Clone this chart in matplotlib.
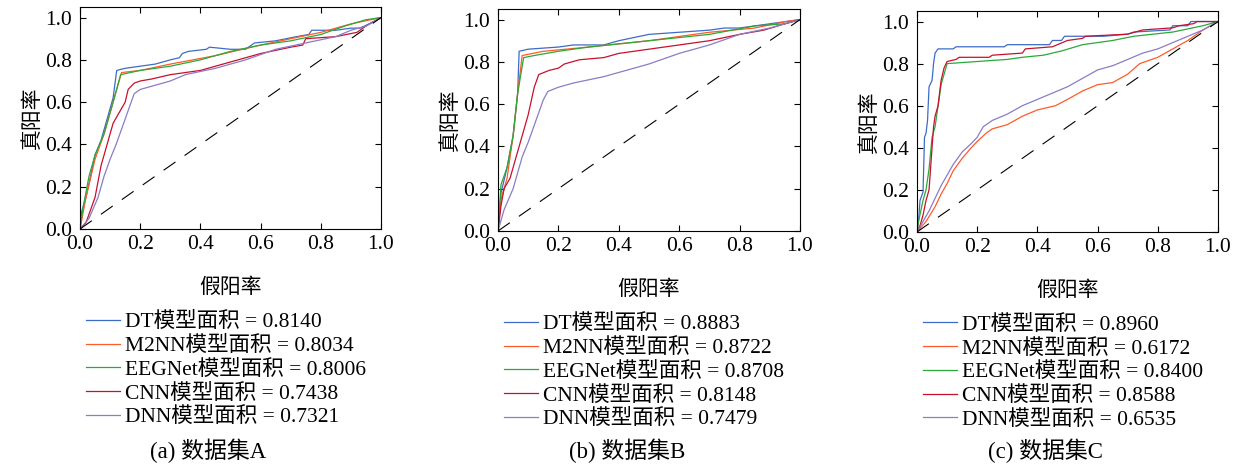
import matplotlib
matplotlib.use('Agg')
import matplotlib.pyplot as plt

plt.rcParams['font.family'] = ['Liberation Serif', 'Noto Sans CJK SC']
plt.rcParams['axes.unicode_minus'] = False

# ---- 数据集A ----
a_dt_fpr = [0, 0.005, 0.02, 0.05, 0.07, 0.09, 0.11, 0.122, 0.15, 0.2, 0.25, 0.3, 0.33, 0.34, 0.36, 0.42, 0.43, 0.5, 0.55, 0.58, 0.65, 0.72, 0.76, 0.77, 0.85, 0.9, 0.93, 0.96, 1.0]
a_dt_tpr = [0, 0.08, 0.15, 0.35, 0.42, 0.52, 0.62, 0.75, 0.76, 0.77, 0.78, 0.80, 0.81, 0.83, 0.84, 0.85, 0.86, 0.85, 0.85, 0.88, 0.89, 0.91, 0.92, 0.94, 0.94, 0.95, 0.95, 0.97, 1.0]
a_m2nn_fpr = [0, 0.02, 0.05, 0.08, 0.11, 0.138, 0.2, 0.3, 0.45, 0.6, 0.7, 0.8, 0.9, 1.0]
a_m2nn_tpr = [0, 0.15, 0.33, 0.45, 0.60, 0.74, 0.75, 0.78, 0.82, 0.87, 0.90, 0.93, 0.97, 1.0]
a_eeg_fpr = [0, 0.01, 0.03, 0.05, 0.08, 0.11, 0.135, 0.2, 0.3, 0.4, 0.5, 0.6, 0.7, 0.8, 0.88, 0.95, 1.0]
a_eeg_tpr = [0, 0.10, 0.25, 0.35, 0.45, 0.60, 0.73, 0.75, 0.77, 0.80, 0.84, 0.87, 0.89, 0.92, 0.96, 0.99, 1.0]
a_cnn_fpr = [0, 0.02, 0.05, 0.07, 0.09, 0.11, 0.13, 0.15, 0.16, 0.18, 0.2, 0.24, 0.3, 0.4, 0.5, 0.6, 0.7, 0.74, 0.75, 0.85, 0.92, 0.95, 1.0]
a_cnn_tpr = [0, 0.03, 0.15, 0.30, 0.40, 0.50, 0.55, 0.60, 0.66, 0.69, 0.70, 0.71, 0.73, 0.75, 0.79, 0.83, 0.86, 0.87, 0.90, 0.91, 0.93, 0.96, 1.0]
a_dnn_fpr = [0, 0.03, 0.06, 0.08, 0.1, 0.12, 0.14, 0.16, 0.18, 0.2, 0.25, 0.3, 0.35, 0.45, 0.55, 0.65, 0.75, 0.85, 0.9, 0.95, 1.0]
a_dnn_tpr = [0, 0.05, 0.15, 0.25, 0.33, 0.40, 0.48, 0.56, 0.64, 0.66, 0.68, 0.70, 0.73, 0.76, 0.80, 0.85, 0.88, 0.91, 0.94, 0.96, 1.0]

# ---- 数据集B ----
b_dt_fpr = [0, 0.01, 0.03, 0.05, 0.065, 0.07, 0.1, 0.2, 0.25, 0.35, 0.4, 0.5, 0.6, 0.7, 0.75, 0.8, 0.9, 0.95, 1.0]
b_dt_tpr = [0, 0.18, 0.30, 0.45, 0.65, 0.85, 0.86, 0.87, 0.88, 0.88, 0.90, 0.93, 0.94, 0.95, 0.96, 0.96, 0.98, 0.99, 1.0]
b_m2nn_fpr = [0, 0.01, 0.03, 0.05, 0.065, 0.08, 0.15, 0.3, 0.5, 0.7, 0.85, 0.95, 1.0]
b_m2nn_tpr = [0, 0.15, 0.25, 0.45, 0.65, 0.83, 0.85, 0.87, 0.90, 0.94, 0.96, 0.99, 1.0]
b_eeg_fpr = [0, 0.01, 0.03, 0.05, 0.065, 0.085, 0.12, 0.2, 0.3, 0.5, 0.7, 0.85, 0.95, 1.0]
b_eeg_tpr = [0, 0.22, 0.30, 0.45, 0.65, 0.82, 0.83, 0.85, 0.87, 0.90, 0.93, 0.97, 0.98, 1.0]
b_cnn_fpr = [0, 0.01, 0.02, 0.04, 0.06, 0.08, 0.1, 0.12, 0.135, 0.17, 0.2, 0.22, 0.27, 0.35, 0.4, 0.5, 0.6, 0.7, 0.8, 0.88, 0.95, 1.0]
b_cnn_tpr = [0, 0.12, 0.20, 0.25, 0.35, 0.45, 0.55, 0.68, 0.74, 0.76, 0.77, 0.79, 0.81, 0.82, 0.84, 0.86, 0.88, 0.90, 0.93, 0.95, 0.98, 1.0]
b_dnn_fpr = [0, 0.02, 0.05, 0.08, 0.1, 0.12, 0.15, 0.165, 0.2, 0.25, 0.35, 0.4, 0.5, 0.6, 0.7, 0.8, 0.9, 1.0]
b_dnn_tpr = [0, 0.10, 0.20, 0.35, 0.42, 0.50, 0.62, 0.66, 0.68, 0.70, 0.73, 0.75, 0.79, 0.84, 0.88, 0.93, 0.96, 1.0]

# ---- 数据集C ----
c_dt_fpr = [0, 0.005, 0.01, 0.02, 0.025, 0.03, 0.035, 0.04, 0.05, 0.055, 0.06, 0.07, 0.12, 0.13, 0.29, 0.3, 0.44, 0.45, 0.48, 0.49, 0.62, 0.7, 0.72, 0.84, 0.85, 0.9, 0.91, 1.0]
c_dt_tpr = [0, 0.05, 0.15, 0.19, 0.45, 0.47, 0.53, 0.69, 0.72, 0.80, 0.85, 0.87, 0.87, 0.88, 0.88, 0.89, 0.89, 0.91, 0.91, 0.93, 0.93, 0.94, 0.95, 0.96, 0.98, 0.98, 1.0, 1.0]
c_m2nn_fpr = [0, 0.03, 0.06, 0.08, 0.1, 0.12, 0.15, 0.18, 0.2, 0.23, 0.25, 0.3, 0.35, 0.4, 0.46, 0.5, 0.55, 0.6, 0.65, 0.7, 0.74, 0.8, 0.85, 0.9, 0.95, 1.0]
c_m2nn_tpr = [0, 0.05, 0.12, 0.18, 0.23, 0.29, 0.35, 0.40, 0.43, 0.47, 0.49, 0.51, 0.55, 0.58, 0.60, 0.63, 0.67, 0.70, 0.71, 0.75, 0.80, 0.83, 0.87, 0.91, 0.96, 1.0]
c_eeg_fpr = [0, 0.005, 0.02, 0.03, 0.04, 0.05, 0.06, 0.07, 0.08, 0.09, 0.1, 0.2, 0.3, 0.35, 0.42, 0.48, 0.55, 0.65, 0.72, 0.85, 0.95, 1.0]
c_eeg_tpr = [0, 0.05, 0.15, 0.20, 0.30, 0.45, 0.50, 0.60, 0.70, 0.75, 0.80, 0.81, 0.82, 0.83, 0.84, 0.86, 0.89, 0.91, 0.93, 0.95, 0.98, 1.0]
c_cnn_fpr = [0, 0.01, 0.02, 0.03, 0.04, 0.045, 0.05, 0.055, 0.06, 0.07, 0.075, 0.08, 0.09, 0.1, 0.13, 0.14, 0.24, 0.25, 0.35, 0.36, 0.45, 0.5, 0.55, 0.56, 0.7, 0.75, 0.85, 0.87, 0.92, 0.93, 1.0]
c_cnn_tpr = [0, 0.03, 0.08, 0.15, 0.20, 0.30, 0.40, 0.50, 0.55, 0.60, 0.66, 0.72, 0.78, 0.81, 0.82, 0.83, 0.83, 0.84, 0.85, 0.87, 0.88, 0.91, 0.92, 0.93, 0.94, 0.96, 0.97, 0.98, 0.99, 1.0, 1.0]
c_dnn_fpr = [0, 0.02, 0.04, 0.06, 0.08, 0.1, 0.12, 0.15, 0.18, 0.2, 0.22, 0.25, 0.3, 0.35, 0.4, 0.45, 0.5, 0.55, 0.6, 0.65, 0.7, 0.75, 0.8, 0.85, 0.9, 0.95, 1.0]
c_dnn_tpr = [0, 0.05, 0.10, 0.16, 0.22, 0.27, 0.32, 0.38, 0.42, 0.45, 0.50, 0.53, 0.56, 0.60, 0.63, 0.66, 0.69, 0.73, 0.77, 0.79, 0.82, 0.85, 0.87, 0.90, 0.93, 0.96, 1.0]

models = ['DT', 'M2NN', 'EEGNet', 'CNN', 'DNN']
auc_a = ['0.8140', '0.8034', '0.8006', '0.7438', '0.7321']
auc_b = ['0.8883', '0.8722', '0.8708', '0.8148', '0.7479']
auc_c = ['0.8960', '0.6172', '0.8400', '0.8588', '0.6535']
captions = ['(a) 数据集A', '(b) 数据集B', '(c) 数据集C']

colors = ['#3d6cc6', '#ff5a2a', '#2ca838', '#c8102e', '#8a7cc6']

panels = [
    ([a_dt_fpr, a_m2nn_fpr, a_eeg_fpr, a_cnn_fpr, a_dnn_fpr],
     [a_dt_tpr, a_m2nn_tpr, a_eeg_tpr, a_cnn_tpr, a_dnn_tpr], auc_a),
    ([b_dt_fpr, b_m2nn_fpr, b_eeg_fpr, b_cnn_fpr, b_dnn_fpr],
     [b_dt_tpr, b_m2nn_tpr, b_eeg_tpr, b_cnn_tpr, b_dnn_tpr], auc_b),
    ([c_dt_fpr, c_m2nn_fpr, c_eeg_fpr, c_cnn_fpr, c_dnn_fpr],
     [c_dt_tpr, c_m2nn_tpr, c_eeg_tpr, c_cnn_tpr, c_dnn_tpr], auc_c),
]

W, H = 1239, 468
fig = plt.figure(figsize=(W / 100, H / 100), dpi=100)

# axes boxes in pixels: left, top, right, bottom
boxes = [(80, 7, 381, 229), (498, 9, 800, 231), (917, 11, 1218, 232)]

for i, (fprs, tprs, aucs) in enumerate(panels):
    l, t, r, b = boxes[i]
    ax = fig.add_axes([l / W, 1 - b / H, (r - l) / W, (b - t) / H])
    for j in range(5):
        ax.plot(fprs[j], tprs[j], color=colors[j], lw=0.9,
                label=f'{models[j]}模型面积 = {aucs[j]}')
    ax.plot([0, 1], [0, 1], color='black', lw=0.8, dashes=(13, 10))
    ax.set_xlim(0, 1)
    ax.set_ylim(0, 1.05)
    ax.set_xticks([0, 0.2, 0.4, 0.6, 0.8, 1.0])
    ax.set_yticks([0, 0.2, 0.4, 0.6, 0.8, 1.0])
    ax.tick_params(direction='in', top=True, right=True, length=4.5,
                   width=0.8, labelsize=15.5)
    ax.tick_params(axis='x', pad=4)
    ax.tick_params(axis='y', pad=5.5)
    for s in ax.spines.values():
        s.set_linewidth(0.8)
    ax.set_xlabel('假阳率', fontsize=15, labelpad=18)
    ax.set_ylabel('真阳率', fontsize=15, labelpad=2)
    ax.legend(loc='upper left', bbox_to_anchor=(6 / (r - l), -0.375),
              frameon=False, fontsize=15.5, handlelength=1.58,
              handletextpad=0.23, labelspacing=0.17, borderaxespad=0,
              borderpad=0)
    cx = (l + r) / 2 - 22
    fig.text(cx / W, 1 - 451 / H, captions[i], ha='center', va='center',
             fontsize=16.5)

fig.savefig('out.png', dpi=100)
